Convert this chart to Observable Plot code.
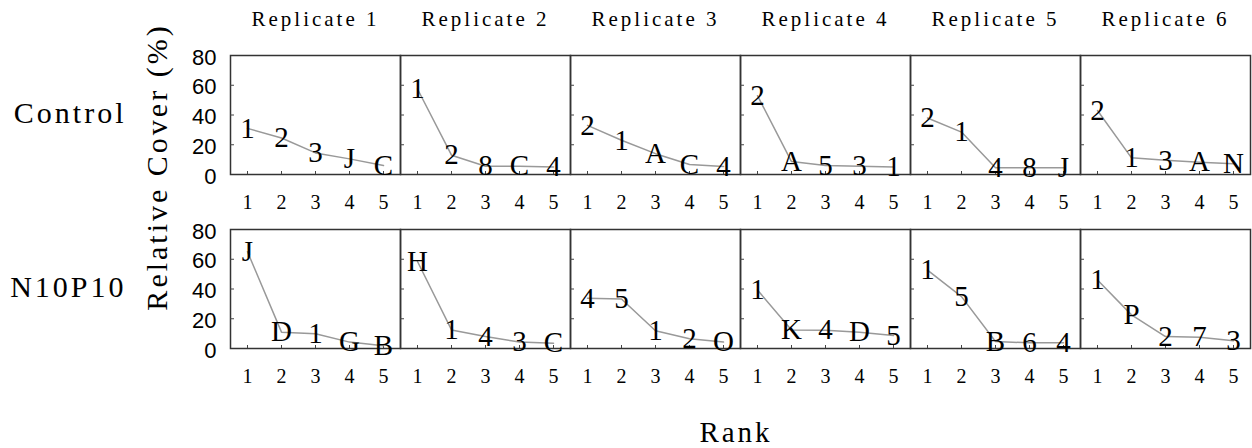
<!DOCTYPE html>
<html>
<head>
<meta charset="utf-8">
<script src="https://cdn.jsdelivr.net/npm/d3@7"></script>
<script src="https://cdn.jsdelivr.net/npm/@observablehq/plot@0.6"></script>
<style>
  html, body { margin: 0; padding: 0; background: #fff; }
</style>
</head>
<body>
<div id="chart"></div>
<script>
const replicates = ["Replicate 1", "Replicate 2", "Replicate 3", "Replicate 4", "Replicate 5", "Replicate 6"];
const treatments = ["Control", "N10P10"];
const ranks = [1, 2, 3, 4, 5];
const yTicks = [0, 20, 40, 60, 80];

const controlValues = [
  [31, 24.5, 14.5, 10.5, 6],
  [57.5, 13, 5.6, 5.6, 5],
  [33, 23, 14, 6.7, 5.4],
  [53, 8.7, 6, 5.6, 5],
  [38, 28.5, 4.5, 4.5, 4.5],
  [43, 11.2, 9.6, 8.3, 7.2]
];
const controlLabels = [
  ["1", "2", "3", "J", "C"],
  ["1", "2", "8", "C", "4"],
  ["2", "1", "A", "C", "4"],
  ["2", "A", "5", "3", "1"],
  ["2", "1", "4", "8", "J"],
  ["2", "1", "3", "A", "N"]
];
const n10p10Values = [
  [65, 11, 9.9, 4.3, 1.8],
  [58.5, 12.5, 8, 4.3, 3.6],
  [33.8, 33.3, 11.9, 6.5, 4.3],
  [39.3, 12.5, 12.3, 11, 8.7],
  [52.7, 34.9, 4.7, 3.8, 3.8],
  [46, 22.6, 8, 7.6, 5.2]
];
const n10p10Labels = [
  ["J", "D", "1", "G", "B"],
  ["H", "1", "4", "3", "C"],
  ["4", "5", "1", "2", "O"],
  ["1", "K", "4", "D", "5"],
  ["1", "5", "B", "6", "4"],
  ["1", "P", "2", "7", "3"]
];

const yLabel = "Relative Cover (%)";
const xLabel = "Rank";

// Build table
const table = [];
[[controlValues, controlLabels], [n10p10Values, n10p10Labels]].forEach(([vals, labs], ti) => {
  vals.forEach((row, ri) => {
    row.forEach((v, k) => {
      table.push({treatment: treatments[ti], replicate: replicates[ri], rank: ranks[k], value: v, label: labs[ri][k]});
    });
  });
});

// pick first installed font
function pickFont(cands, generic) {
  const ctx = document.createElement("canvas").getContext("2d");
  const probe = "Replicate 1 Wmi0123 Rank";
  for (const f of cands) {
    for (const base of ["monospace", "sans-serif", "serif"]) {
      ctx.font = "72px " + base;
      const w0 = ctx.measureText(probe).width;
      ctx.font = "72px \"" + f + "\", " + base;
      const w1 = ctx.measureText(probe).width;
      if (Math.abs(w1 - w0) > 0.5) return "\"" + f + "\", " + generic;
    }
  }
  return generic;
}
const serif = pickFont(["Liberation Serif", "Times New Roman", "Tinos", "Nimbus Roman", "Noto Serif", "DejaVu Serif"], "serif");
const sans = pickFont(["Liberation Sans", "Arial", "Arimo", "Helvetica", "Roboto"], "sans-serif");

const svg = Plot.plot({
  width: 1252,
  height: 448,
  marginTop: 55,
  marginLeft: 230,
  marginRight: 2,
  marginBottom: 99,
  style: {fontFamily: serif, background: "#fff", color: "#000"},
  x: {domain: [0.5, 5.5]},
  y: {domain: [0, 80]},
  fx: {domain: replicates, padding: 0},
  fy: {domain: treatments, paddingInner: 0.315, paddingOuter: 0},
  marks: [
    Plot.frame({stroke: "#333", strokeWidth: 1.5}),
    Plot.axisY({ticks: [20, 40, 60], tickSize: -4, tickFormat: () => "", facetAnchor: null, anchor: "left", stroke: "#444", label: null}),
    Plot.axisX({ticks: ranks, tickSize: -3, tickFormat: () => "", facetAnchor: null, anchor: "bottom", stroke: "#444", label: null}),
    Plot.axisY({ticks: yTicks, tickSize: 0, tickPadding: 14, tickFormat: d => String(d), fontSize: 22, fontFamily: sans, label: null, dy: 2}),
    Plot.axisX({ticks: ranks, tickSize: 0, tickPadding: 20, tickFormat: d => String(d), fontSize: 20, fontFamily: serif, facetAnchor: null, label: null}),
    Plot.axisFx({anchor: "top", tickSize: 0, tickPadding: 30, fontSize: 21, fontFamily: serif, label: null}),
    Plot.axisFy({anchor: "left", tickSize: 0, tickPadding: 104, fontSize: 30, fontFamily: serif, label: null, dy: -2}),
    Plot.line(table, {x: "rank", y: "value", fx: "replicate", fy: "treatment", stroke: "#999", strokeWidth: 1.5}),
    Plot.text(table, {x: "rank", y: "value", fx: "replicate", fy: "treatment", text: "label", fontSize: 29, fontFamily: serif, fill: "#000"})
  ]
});

const s = d3.select(svg);
s.selectAll('g[aria-label="fx-axis tick label"] text').attr("letter-spacing", "3px");
s.selectAll('g[aria-label="fy-axis tick label"] text').attr("letter-spacing", "3px");

s.append("text")
  .attr("transform", "translate(167,167) rotate(-90)")
  .attr("text-anchor", "middle")
  .attr("font-family", serif)
  .attr("font-size", 30)
  .attr("letter-spacing", "3px")
  .attr("fill", "#000")
  .text(yLabel);

s.append("text")
  .attr("x", 736)
  .attr("y", 442)
  .attr("text-anchor", "middle")
  .attr("font-family", serif)
  .attr("font-size", 29)
  .attr("letter-spacing", "3px")
  .attr("fill", "#000")
  .text(xLabel);

document.getElementById("chart").appendChild(svg);
</script>
</body>
</html>
